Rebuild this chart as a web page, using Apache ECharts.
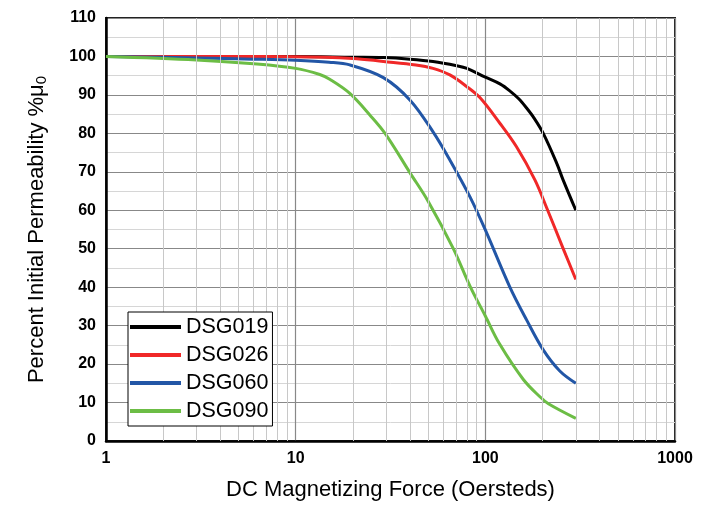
<!DOCTYPE html>
<html>
<head>
<meta charset="utf-8">
<script src="https://cdn.jsdelivr.net/npm/echarts@6/dist/echarts.min.js"></script>
<style>
html,body{margin:0;padding:0;background:#fff;}
#chart{width:701px;height:506px;}
</style>
</head>
<body>
<div id="chart"></div>
<script>
// ---- data ----
const seriesNames = ['DSG019', 'DSG026', 'DSG060', 'DSG090'];

const dsg019X = [1, 5, 10, 20, 29, 40, 53, 70.6, 80, 100, 120, 135, 150, 165, 180, 202, 238, 257, 300];
const dsg019Y = [100, 100, 100, 99.8, 99.7, 99.3, 98.7, 97.6, 96.9, 94.6, 92.8, 91, 89, 86.6, 84.1, 80, 72.2, 67.9, 60];

const dsg026X = [1, 5, 10, 20, 29, 43, 53, 65, 79.7, 93.6, 119, 146, 182.5, 210, 257, 300];
const dsg026Y = [100, 100, 99.95, 99.5, 98.7, 97.8, 96.9, 95.2, 92.2, 89.3, 82.7, 76.5, 67.9, 60.8, 50.1, 42];

const dsg060X = [1, 3, 6, 10, 15, 19.3, 29, 40, 53, 65, 83, 100, 134.5, 165, 202, 247, 300];
const dsg060Y = [100, 99.6, 99.3, 99.0, 98.5, 97.8, 94.5, 88.7, 80.4, 73.1, 63.5, 54.9, 40.1, 31.5, 23.7, 18.2, 15];

const dsg090X = [1, 3, 6, 10, 13.4, 15.2, 19.3, 24.6, 29.6, 40, 50, 67.7, 83, 100, 119, 158.6, 194, 215, 300];
const dsg090Y = [100, 99.1, 98.1, 96.9, 95.3, 94, 90.4, 84.8, 80, 69.8, 62.3, 50.1, 40.3, 32.5, 25.2, 16, 11.5, 9.7, 5.9];

const minorXTicks = [2, 3, 4, 5, 6, 7, 8, 9, 20, 30, 40, 50, 60, 70, 80, 90, 200, 300, 400, 500, 600, 700, 800, 900];
const xMin = 1, xMax = 1000;
const yMin = 0, yMax = 110, yInterval = 10;

const colors = ['#000000', '#f02828', '#2256a6', '#6cbd45'];
const font = 'Arial, "Liberation Sans", sans-serif';

function pairs(xs, ys) { return xs.map((x, i) => [x, ys[i]]); }
const allData = [pairs(dsg019X, dsg019Y), pairs(dsg026X, dsg026Y), pairs(dsg060X, dsg060Y), pairs(dsg090X, dsg090Y)];

const chart = echarts.init(document.getElementById('chart'), null, {renderer: 'canvas'});

const series = [{
  name: 'minorgrid',
  type: 'line',
  data: [],
  z: 1,
  silent: true,
  markLine: {
    silent: true,
    animation: false,
    symbol: ['none', 'none'],
    label: {show: false},
    lineStyle: {color: '#c8c8c8', width: 1, type: 'solid'},
    emphasis: {disabled: true},
    data: minorXTicks.map(v => ({xAxis: v}))
  }
}];
seriesNames.forEach((n, i) => {
  series.push({
    name: n,
    type: 'line',
    data: allData[i],
    smooth: 0.35,
    showSymbol: false,
    symbol: 'none',
    z: 3,
    lineStyle: {color: colors[i], width: 3},
    itemStyle: {color: colors[i]}
  });
});

chart.setOption({
  animation: false,
  backgroundColor: '#fff',
  grid: {
    left: 106, right: 26, top: 18, bottom: 65,
    containLabel: false, outerBoundsMode: 'none',
    show: true, borderColor: '#222', borderWidth: 2, backgroundColor: 'transparent'
  },
  legend: {
    data: seriesNames,
    orient: 'vertical',
    left: 128, top: 312,
    backgroundColor: '#fff',
    borderColor: '#000', borderWidth: 1,
    padding: [4, 4, 4, 2],
    itemGap: 6,
    itemWidth: 51, itemHeight: 4,
    icon: 'rect',
    textStyle: {fontFamily: font, fontSize: 21.5, lineHeight: 21, color: '#000'},
    z: 10
  },
  xAxis: {
    type: 'log', logBase: 10, min: xMin, max: xMax,
    name: 'DC Magnetizing Force (Oersteds)',
    nameLocation: 'middle', nameGap: 38,
    nameTextStyle: {fontFamily: font, fontSize: 22, color: '#000'},
    axisLine: {show: true, lineStyle: {color: '#000', width: 2.5}},
    axisTick: {show: false},
    axisLabel: {fontFamily: font, fontSize: 16, fontWeight: 'bold', color: '#000', margin: 10,
      formatter: v => String(Math.round(v))},
    splitLine: {show: true, lineStyle: {color: '#888', width: 1.2}},
    minorTick: {show: false},
    minorSplitLine: {show: false}
  },
  yAxis: {
    type: 'value', min: yMin, max: yMax, interval: yInterval,
    name: 'Percent Initial Permeability %μ{sub|0}',
    nameLocation: 'middle', nameGap: 57, nameRotate: 90,
    nameTextStyle: {
      fontFamily: font, fontSize: 22, color: '#000',
      rich: {sub: {fontFamily: font, fontSize: 15, color: '#000', verticalAlign: 'bottom', padding: [9, 0, 0, 0]}}
    },
    axisLine: {show: true, lineStyle: {color: '#000', width: 2.5}},
    axisTick: {show: false},
    axisLabel: {fontFamily: font, fontSize: 16, fontWeight: 'bold', color: '#000', margin: 10},
    splitLine: {show: true, lineStyle: {color: '#888', width: 1.2}},
    minorTick: {show: false, splitNumber: 2},
    minorSplitLine: {show: true, lineStyle: {color: '#d6d6d6', width: 1}}
  },
  series: series
});
</script>
</body>
</html>
